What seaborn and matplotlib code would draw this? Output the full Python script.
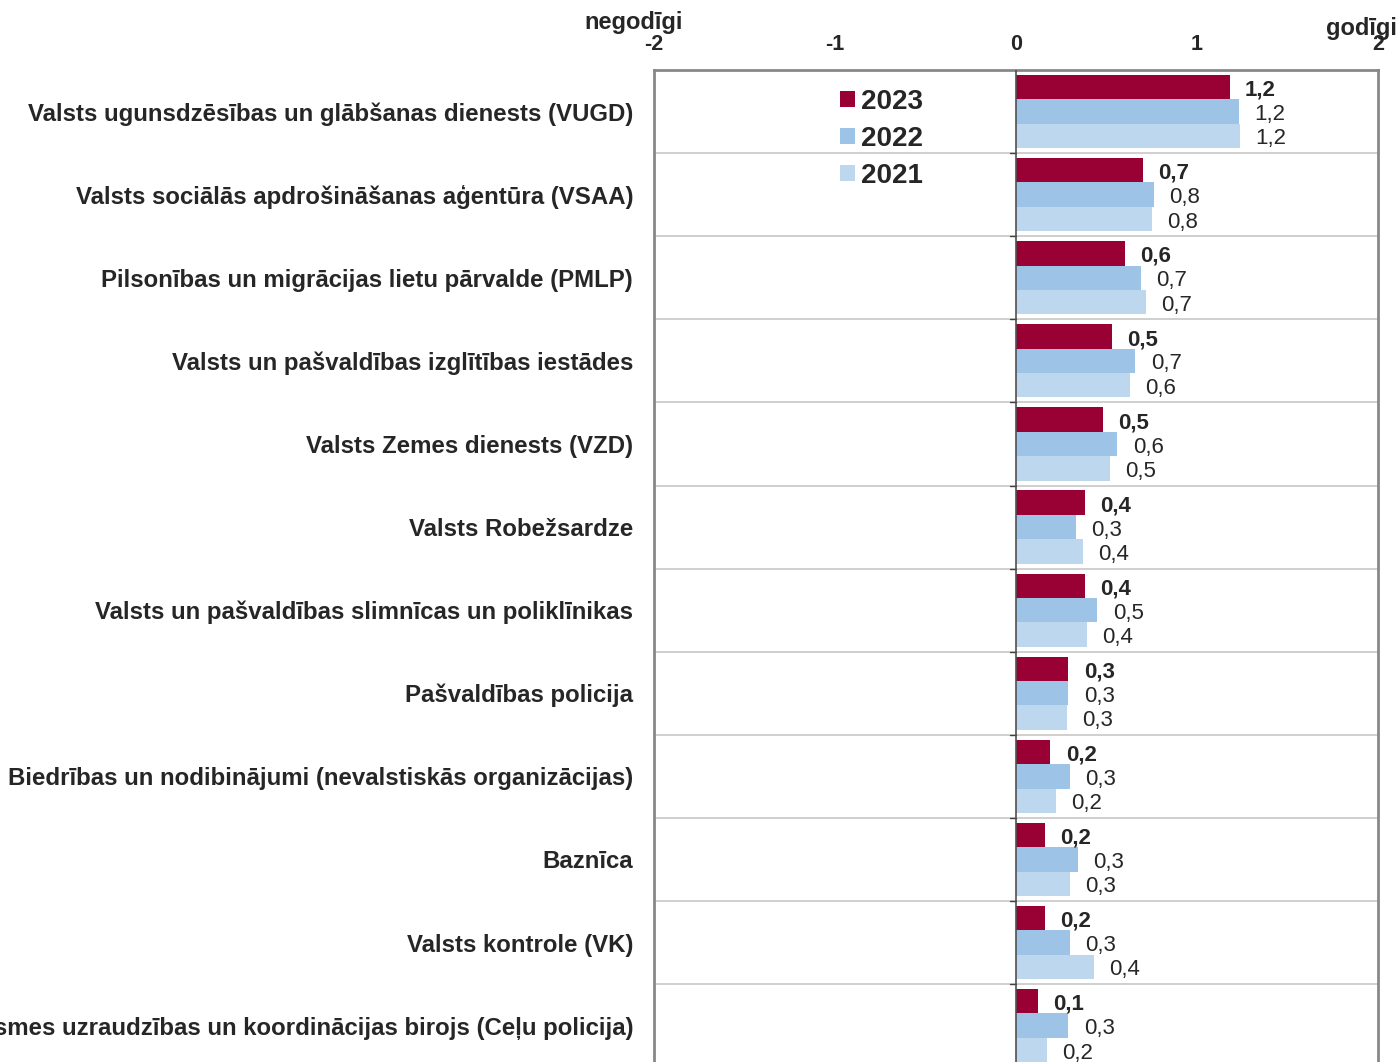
import matplotlib
matplotlib.use("Agg")
import matplotlib.pyplot as plt
import seaborn as sns
import pandas as pd

categories = [
    "Valsts ugunsdzēsības un glābšanas dienests (VUGD)",
    "Valsts sociālās apdrošināšanas aģentūra (VSAA)",
    "Pilsonības un migrācijas lietu pārvalde (PMLP)",
    "Valsts un pašvaldības izglītības iestādes",
    "Valsts Zemes dienests (VZD)",
    "Valsts Robežsardze",
    "Valsts un pašvaldības slimnīcas un poliklīnikas",
    "Pašvaldības policija",
    "Biedrības un nodibinājumi (nevalstiskās organizācijas)",
    "Baznīca",
    "Valsts kontrole (VK)",
    "Valsts policijas Satiksmes uzraudzības un koordinācijas birojs (Ceļu policija)",
]
years = ["2023", "2022", "2021"]
v2023 = [1.18, 0.70, 0.60, 0.53, 0.48, 0.38, 0.38, 0.29, 0.19, 0.16, 0.16, 0.12]
v2022 = [1.23, 0.76, 0.69, 0.66, 0.56, 0.33, 0.45, 0.29, 0.30, 0.34, 0.30, 0.29]
v2021 = [1.24, 0.75, 0.72, 0.63, 0.52, 0.37, 0.39, 0.28, 0.22, 0.30, 0.43, 0.17]
colors = ["#990033", "#9DC3E6", "#BDD7EE"]

df = pd.concat([
    pd.DataFrame({"kategorija": categories, "gads": y, "vertiba": v})
    for y, v in zip(years, [v2023, v2022, v2021])
])

sns.set_style("white")
plt.rcParams["font.family"] = ["Liberation Sans", "DejaVu Sans"]

W, H = 1399, 1062
fig = plt.figure(figsize=(W / 100, H / 100), dpi=100)
top_px, left_px, right_px, row_px = 70, 654, 1378, 83.1
n = len(categories)
bottom_px = top_px + n * row_px
ax = fig.add_axes([left_px / W, 1 - bottom_px / H, (right_px - left_px) / W, (bottom_px - top_px) / H])

sns.barplot(data=df, y="kategorija", x="vertiba", hue="gads", hue_order=years,
            palette=colors, orient="h", width=0.88, saturation=1, ax=ax, linewidth=0)

ax.set_xlim(-2, 2)
ax.set_ylim(n - 0.5, -0.5)
ax.set_xlabel("")
ax.set_ylabel("")

# separators between categories
for b in range(1, n):
    ax.axhline(b - 0.5, color="#cccccc", lw=1.3, zorder=0)
    ax.plot([-0.035, 0], [b - 0.5, b - 0.5], color="#404040", lw=1, zorder=3)
ax.axvline(0, color="#505050", lw=1.2, zorder=3)

ax.xaxis.tick_top()
ax.set_xticks([-2, -1, 0, 1, 2])
ax.set_xticklabels(["-2", "-1", "0", "1", "2"], fontweight="bold", fontsize=15.5)
ax.tick_params(axis="x", length=0, pad=11)
ax.tick_params(axis="y", length=0, pad=15, labelsize=17.3)
for t in ax.get_yticklabels():
    t.set_fontweight("bold")

for s in ax.spines.values():
    s.set_color("#888888")
    s.set_linewidth(2)

for cont, w in zip(ax.containers, ["bold", "normal", "normal"]):
    labels = [f"{b.get_width():.1f}".replace(".", ",") for b in cont]
    texts = ax.bar_label(cont, labels=labels, padding=11, fontsize=16, fontweight=w)
    for t in texts:
        t.xyann = (t.xyann[0], -2.2)

leg = ax.legend(loc="upper left", bbox_to_anchor=(0.223, 1.006), frameon=False,
                prop={"size": 20, "weight": "bold"}, handlelength=0.52,
                handleheight=0.52, handletextpad=0.22, labelspacing=0.4)

fig.text(683 / W, 1 - 22 / H, "negodīgi", ha="right", va="center", fontsize=17, fontweight="bold")
fig.text(1326 / W, 1 - 28 / H, "godīgi", ha="left", va="center", fontsize=17, fontweight="bold")

fig.savefig("out.png", dpi=100)
